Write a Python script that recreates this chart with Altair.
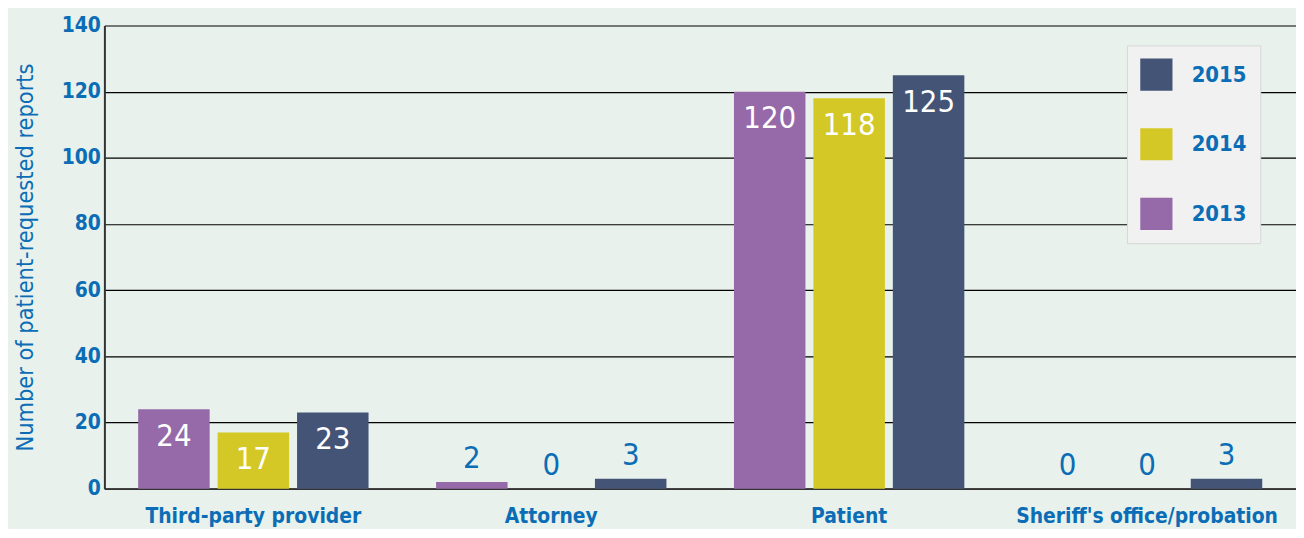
import altair as alt
import pandas as pd

categories = ["Third-party provider", "Attorney", "Patient", "Sheriff's office/probation"]
years = ["2013", "2014", "2015"]
values_2013 = [24, 2, 120, 0]
values_2014 = [17, 0, 118, 0]
values_2015 = [23, 3, 125, 3]

rows = []
for i, c in enumerate(categories):
    for y, vals in zip(years, [values_2013, values_2014, values_2015]):
        rows.append({"category": c, "year": y, "value": vals[i]})
df = pd.DataFrame(rows)

FONT = "DejaVu Sans Condensed, Roboto, sans-serif"
BLUE = "#0B6DB5"
colors = {"2013": "#9669A8", "2014": "#D4C826", "2015": "#435476"}

x = alt.X("category:N", sort=categories, title=None,
          scale=alt.Scale(paddingInner=0.2, paddingOuter=0.1),
          axis=alt.Axis(labelAngle=0, labelFontSize=21, labelColor=BLUE, labelFont=FONT,
                        labelFontWeight="bold", ticks=False, labelPadding=17, labelLimit=0,
                        domainColor="#333333", domainWidth=2))
xoff = alt.XOffset("year:N", sort=years,
                   scale=alt.Scale(paddingInner=0.1, paddingOuter=0.05))
y = alt.Y("value:Q", title="Number of patient-requested reports",
          scale=alt.Scale(domain=[0, 140], nice=False),
          axis=alt.Axis(values=[0, 20, 40, 60, 80, 100, 120, 140], ticks=False,
                        labelFontSize=21, labelColor=BLUE, labelFont=FONT, labelFontWeight="bold",
                        labelPadding=4, titleFontSize=23.5, titleColor=BLUE, titleFont=FONT,
                        titleFontWeight="normal", titlePadding=24,
                        gridColor="#000000", gridWidth=1.2, domainColor="#333333", domainWidth=2))

bars = alt.Chart(df).mark_bar().encode(
    x=x, xOffset=xoff, y=y,
    color=alt.Color("year:N",
                    scale=alt.Scale(domain=["2015", "2014", "2013"],
                                    range=[colors["2015"], colors["2014"], colors["2013"]]),
                    legend=alt.Legend(title=None, orient="none", legendX=1029, legendY=20,
                                      symbolType="square", symbolSize=1050, symbolStrokeWidth=0,
                                      symbolOpacity=1,
                                      labelFontSize=22, labelColor=BLUE, labelFont=FONT,
                                      labelFontWeight="bold",
                                      labelOffset=19, rowPadding=37, padding=13,
                                      fillColor="#F1F1F1", strokeColor="#D5D8D7")),
)

inside = alt.Chart(df).transform_filter("datum.value >= 10").mark_text(
    baseline="top", dy=13, fontSize=31, color="white", font=FONT
).encode(x=x, xOffset=xoff, y=y, text="value:Q")

above = alt.Chart(df).transform_filter("datum.value < 10").mark_text(
    baseline="bottom", dy=-7, fontSize=31, color=BLUE, font=FONT
).encode(x=x, xOffset=xoff, y=y, text="value:Q")

chart = (bars + inside + above).properties(
    width=1199, height=466,
    autosize=alt.AutoSizeParams(type="none"),
    padding={"left": 97, "top": 16, "right": 0, "bottom": 39},
    background="#E8F1EC",
).configure_view(stroke=None)

chart.save("out.html", embed_options={"renderer": "svg", "actions": False})
